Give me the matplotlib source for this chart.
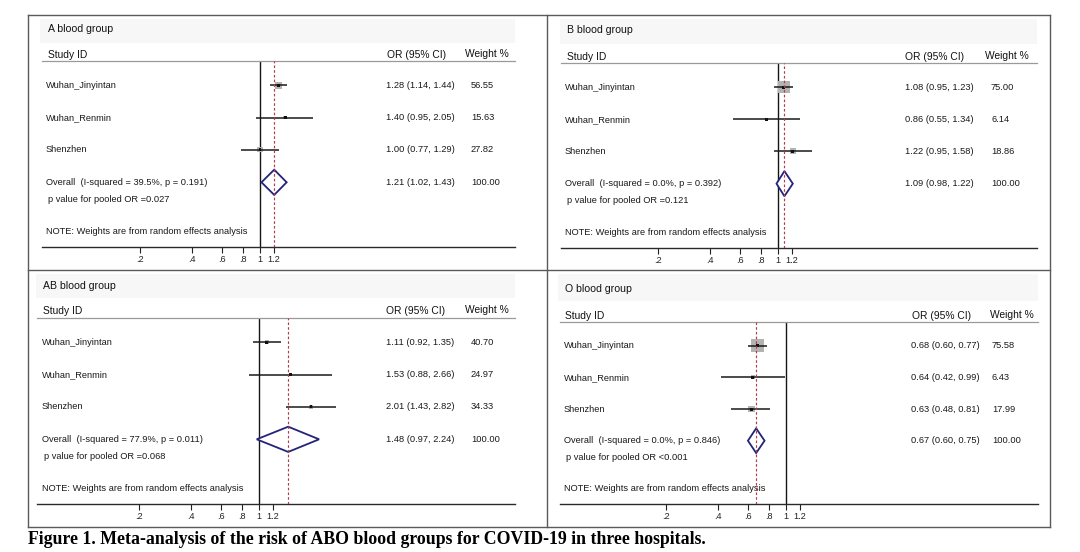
import numpy as np
import matplotlib
matplotlib.use("Agg")
import matplotlib.pyplot as plt
from matplotlib.lines import Line2D
from matplotlib.patches import Polygon, Rectangle
from matplotlib.transforms import blended_transform_factory
from matplotlib.ticker import NullLocator

plt.rcParams['font.family'] = ['Liberation Sans', 'DejaVu Sans']

# ---------------- data ----------------
studies = ["Wuhan_Jinyintan", "Wuhan_Renmin", "Shenzhen"]
panel_titles = ["A blood group", "B blood group", "AB blood group", "O blood group"]

or_A = [1.28, 1.40, 1.00]
lo_A = [1.14, 0.95, 0.77]
hi_A = [1.44, 2.05, 1.29]
w_A = [56.55, 15.63, 27.82]
pooled_A = [1.21, 1.02, 1.43]
het_A = [39.5, 0.191]
pp_A = "=0.027"

or_B = [1.08, 0.86, 1.22]
lo_B = [0.95, 0.55, 0.95]
hi_B = [1.23, 1.34, 1.58]
w_B = [75.00, 6.14, 18.86]
pooled_B = [1.09, 0.98, 1.22]
het_B = [0.0, 0.392]
pp_B = "=0.121"

or_AB = [1.11, 1.53, 2.01]
lo_AB = [0.92, 0.88, 1.43]
hi_AB = [1.35, 2.66, 2.82]
w_AB = [40.70, 24.97, 34.33]
pooled_AB = [1.48, 0.97, 2.24]
het_AB = [77.9, 0.011]
pp_AB = "=0.068"

or_O = [0.68, 0.64, 0.63]
lo_O = [0.60, 0.42, 0.48]
hi_O = [0.77, 0.99, 0.81]
w_O = [75.58, 6.43, 17.99]
pooled_O = [0.67, 0.60, 0.75]
het_O = [0.0, 0.846]
pp_O = "<0.001"

tick_vals = [0.2, 0.4, 0.6, 0.8, 1.0, 1.2]
tick_labels = [".2", ".4", ".6", ".8", "1", "1.2"]
caption = "Figure 1. Meta-analysis of the risk of ABO blood groups for COVID-19 in three hospitals."

# ---------------- layout (pixels) ----------------
W, H = 1080, 552
fig = plt.figure(figsize=(W / 100, H / 100), dpi=100)


def fx(x):
    return x / W


def fy(y):
    return 1 - y / H


layouts = [
    dict(left=42, right=515, x1=260, k=74.5, top=61, bot=247, tx=48, ty=29, hy=55,
         orh=387, wth=465, lx=46, orx=386, wx=471, bs=0.95, band=(40, 515, 19, 43)),
    dict(left=561, right=1037, x1=778, k=74.5, top=63, bot=248, tx=567, ty=30, hy=57,
         orh=905, wth=985, lx=565, orx=905, wx=991, bs=1.39, band=(560, 1037, 19, 44)),
    dict(left=37, right=515, x1=259, k=74.5, top=318, bot=504, tx=43, ty=286, hy=311,
         orh=386, wth=465, lx=42, orx=386, wx=471, bs=0.63, band=(36, 515, 274, 298)),
    dict(left=560, right=1038, x1=786, k=74.5, top=322, bot=504, tx=565, ty=289, hy=316,
         orh=912, wth=990, lx=564, orx=911, wx=992, bs=1.5, band=(558, 1038, 274, 301)),
]

panels = [
    (or_A, lo_A, hi_A, w_A, pooled_A, het_A, pp_A),
    (or_B, lo_B, hi_B, w_B, pooled_B, het_B, pp_B),
    (or_AB, lo_AB, hi_AB, w_AB, pooled_AB, het_AB, pp_AB),
    (or_O, lo_O, hi_O, w_O, pooled_O, het_O, pp_O),
]

txt_col = "#1a1a1a"
row_fs = 6.7
hdr_fs = 7.4

for title, lay, (ors, los, his, ws, pooled, het, pp) in zip(panel_titles, layouts, panels):
    bx0, bx1, by0, by1 = lay["band"]
    fig.add_artist(Rectangle((fx(bx0), fy(by1)), (bx1 - bx0) / W, (by1 - by0) / H,
                             transform=fig.transFigure, facecolor="#f7f7f7",
                             edgecolor="none", zorder=0))

    ax = fig.add_axes([fx(lay["left"]), fy(lay["bot"]),
                       (lay["right"] - lay["left"]) / W, (lay["bot"] - lay["top"]) / H])
    ax.set_xscale("log")
    ax.set_xlim(np.exp((lay["left"] - lay["x1"]) / lay["k"]),
                np.exp((lay["right"] - lay["x1"]) / lay["k"]))
    ax.set_ylim(6.0, 0.25)
    ax.patch.set_alpha(0)
    for s in ["left", "right"]:
        ax.spines[s].set_visible(False)
    ax.spines["top"].set_color("#9a9a9a")
    ax.spines["top"].set_linewidth(0.9)
    ax.spines["bottom"].set_color("#2a2a2a")
    ax.spines["bottom"].set_linewidth(1.0)
    ax.set_xticks(tick_vals)
    ax.set_xticklabels(tick_labels)
    ax.xaxis.set_minor_locator(NullLocator())
    ax.tick_params(axis="x", direction="out", length=4.5, width=0.8, labelsize=6.6,
                   pad=1.5, colors="#222222")
    ax.set_yticks([])

    rows = np.arange(1, len(studies) + 1)
    ax.axvline(1.0, color="#151515", lw=1.0, zorder=1)
    ax.axvline(pooled[0], color="#b13c4c", lw=0.85, ls=(0, (2.2, 1.8)), zorder=5)

    sides = lay["bs"] * np.sqrt(np.array(ws)) * 0.72
    ax.scatter(ors, rows, marker="s", s=sides ** 2, color="#b3b3b3", edgecolors="none", zorder=2)
    ax.hlines(rows, los, his, color="#1a1a1a", lw=1.1, zorder=3)
    ax.scatter(ors, rows, marker="s", s=4.5, color="#111111", edgecolors="none", zorder=4)

    yo = len(studies) + 1
    h = 0.39
    dia = Polygon([(pooled[1], yo), (pooled[0], yo - h), (pooled[2], yo), (pooled[0], yo + h)],
                  closed=True, facecolor="white", edgecolor="#23237a", lw=1.3, zorder=4)
    ax.add_patch(dia)

    tr = blended_transform_factory(fig.transFigure, ax.transData)
    for r, name, o, l, hh, w in zip(rows, studies, ors, los, his, ws):
        ax.text(fx(lay["lx"]), r, name, transform=tr, fontsize=row_fs, va="center", ha="left", color=txt_col)
        ax.text(fx(lay["orx"]), r, f"{o:.2f} ({l:.2f}, {hh:.2f})", transform=tr,
                fontsize=row_fs, va="center", ha="left", color=txt_col)
        ax.text(fx(lay["wx"]), r, f"{w:.2f}", transform=tr, fontsize=row_fs, va="center",
                ha="left", color=txt_col)
    ax.text(fx(lay["lx"]), yo, f"Overall  (I-squared = {het[0]:.1f}%, p = {het[1]:.3f})",
            transform=tr, fontsize=row_fs, va="center", ha="left", color=txt_col)
    ax.text(fx(lay["orx"]), yo, f"{pooled[0]:.2f} ({pooled[1]:.2f}, {pooled[2]:.2f})",
            transform=tr, fontsize=row_fs, va="center", ha="left", color=txt_col)
    ax.text(fx(lay["wx"]), yo, f"{sum(ws):.2f}", transform=tr, fontsize=row_fs, va="center",
            ha="left", color=txt_col)
    ax.text(fx(lay["lx"] + 2), yo + 0.52, f"p value for pooled OR {pp}", transform=tr,
            fontsize=row_fs, va="center", ha="left", color=txt_col)
    ax.text(fx(lay["lx"]), yo + 1.52, "NOTE: Weights are from random effects analysis",
            transform=tr, fontsize=row_fs, va="center", ha="left", color=txt_col)

    fig.text(fx(lay["tx"]), fy(lay["ty"]), title, fontsize=7.6, va="center", ha="left", color="#111111")
    fig.text(fx(lay["tx"]), fy(lay["hy"]), "Study ID", fontsize=hdr_fs, va="center", ha="left", color="#111111")
    fig.text(fx(lay["orh"]), fy(lay["hy"]), "OR (95% CI)", fontsize=hdr_fs, va="center", ha="left", color="#111111")
    fig.text(fx(lay["wth"]), fy(lay["hy"] - 1), "Weight %", fontsize=hdr_fs, va="center", ha="left", color="#111111")

bc = "#5a5a5a"
segs = [((28, 1050), (15, 15)), ((28, 1050), (527, 527)), ((28, 28), (15, 527)),
        ((1050, 1050), (15, 527)), ((547, 547), (15, 527)), ((28, 1050), (270, 270))]
for xs, ys in segs:
    fig.add_artist(Line2D([fx(xs[0]), fx(xs[1])], [fy(ys[0]), fy(ys[1])],
                          transform=fig.transFigure, color=bc, lw=1.0))

fig.text(fx(28), fy(540), caption, fontsize=12.8, fontweight="bold",
         family=["Liberation Serif", "DejaVu Serif"], va="center", ha="left", color="#000000")

fig.savefig("out.png", dpi=100)
